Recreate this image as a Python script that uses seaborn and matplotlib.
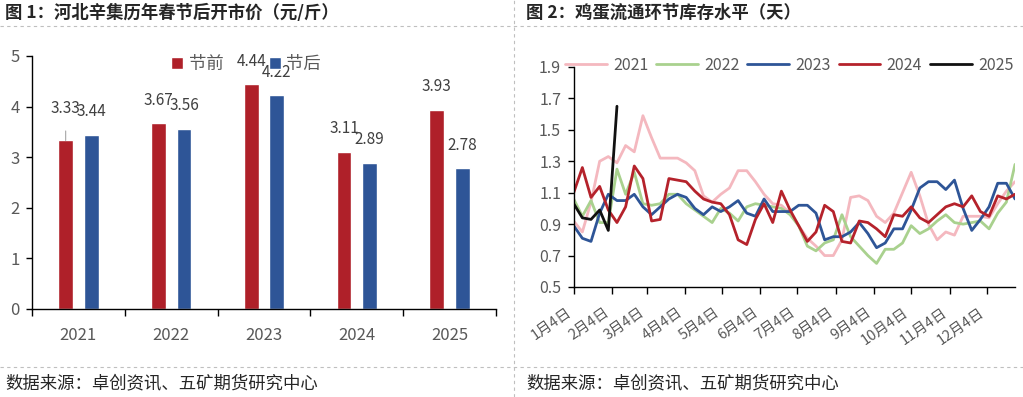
import numpy as np
import pandas as pd
import matplotlib.pyplot as plt
import seaborn as sns

# 图1: 河北辛集历年春节前后开市价
years = ["2021", "2022", "2023", "2024", "2025"]
price_before = [3.33, 3.67, 4.44, 3.11, 3.93]
price_after = [3.44, 3.56, 4.22, 2.89, 2.78]

# 图2: 鸡蛋流通环节库存水平 (weekly, from Jan 4)
stock_2021 = [0.92, 0.85, 1.04, 1.30, 1.33, 1.29, 1.40, 1.36, 1.59, 1.45,
              1.32, 1.32, 1.32, 1.29, 1.24, 1.08, 1.04, 1.09, 1.13, 1.24,
              1.24, 1.17, 1.09, 1.03, 1.02, 0.97, 0.89, 0.81, 0.76, 0.70,
              0.70, 0.80, 1.07, 1.08, 1.05, 0.95, 0.91, 0.97, 1.10, 1.23,
              1.08, 0.90, 0.80, 0.85, 0.83, 0.95, 0.95, 0.95, 0.94, 1.03,
              1.11, 1.17]
stock_2022 = [1.06, 0.95, 1.05, 0.91, 0.91, 1.25, 1.09, 1.23, 1.03, 1.02,
              1.03, 1.09, 1.09, 1.03, 0.99, 0.95, 0.91, 1.00, 0.97, 0.92,
              1.01, 1.03, 1.02, 1.01, 1.00, 0.96, 0.89, 0.76, 0.73, 0.78,
              0.80, 0.96, 0.82, 0.76, 0.70, 0.65, 0.74, 0.74, 0.78, 0.89,
              0.84, 0.87, 0.92, 0.96, 0.91, 0.90, 0.91, 0.92, 0.87, 0.97,
              1.04, 1.28]
stock_2023 = [0.89, 0.81, 0.79, 0.97, 1.09, 1.05, 1.05, 1.09, 1.01, 0.96,
              1.01, 1.06, 1.09, 1.07, 1.00, 0.96, 1.01, 0.98, 1.01, 1.05,
              0.97, 0.95, 1.06, 0.98, 0.98, 0.98, 1.02, 1.02, 0.97, 0.80,
              0.82, 0.82, 0.85, 0.91, 0.84, 0.75, 0.78, 0.87, 0.87, 0.99,
              1.13, 1.17, 1.17, 1.12, 1.18, 1.00, 0.86, 0.93, 1.01, 1.16,
              1.16, 1.06]
stock_2024 = [1.10, 1.26, 1.07, 1.14, 0.99, 0.91, 1.01, 1.27, 1.19, 0.92,
              0.93, 1.19, 1.18, 1.17, 1.11, 1.06, 1.04, 1.03, 0.96, 0.80,
              0.77, 0.93, 1.03, 0.91, 1.11, 0.99, 0.89, 0.79, 0.85, 1.02,
              0.98, 0.79, 0.78, 0.92, 0.91, 0.87, 0.82, 0.96, 0.95, 1.01,
              0.94, 0.91, 0.96, 1.01, 1.03, 1.01, 1.08, 0.98, 0.95, 1.08,
              1.06, 1.09]
stock_2025 = [1.03, 0.94, 0.93, 0.99, 0.86, 1.65]
month_days = [0, 31, 59, 90, 120, 151, 181, 212, 243, 273, 304, 334]
month_labels = ["1月4日", "2月4日", "3月4日", "4月4日", "5月4日", "6月4日",
                "7月4日", "8月4日", "9月4日", "10月4日", "11月4日", "12月4日"]

sns.set_theme(style="white")
plt.rcParams["font.family"] = ["Noto Sans CJK SC", "DejaVu Sans"]
grey = "#595959"

fig = plt.figure(figsize=(10.23, 3.97), dpi=100)

# ---- left: bar chart
bars = pd.DataFrame({
    "year": years * 2,
    "period": ["节前"] * 5 + ["节后"] * 5,
    "price": price_before + price_after,
})
ax1 = fig.add_axes([0.0313, 0.2217, 0.4536, 0.6373])
sns.barplot(data=bars, x="year", y="price", hue="period",
            palette=["#AF2029", "#2E5597"], saturation=1,
            width=0.55, gap=0.42, ax=ax1)
ax1.set_ylim(0, 5)
ax1.set_xlim(-0.5, 4.5)
ax1.set_xlabel("")
ax1.set_ylabel("")
ax1.set_yticks(range(6))
ax1.set_xticks(np.arange(-0.5, 5, 1), minor=True)
ax1.tick_params(axis="x", which="major", length=0, pad=13, labelsize=12, labelcolor=grey)
ax1.tick_params(axis="x", which="minor", length=5, width=1, color="black", direction="out", bottom=True)
ax1.tick_params(axis="y", length=4, width=1, color="black", direction="out", left=True,
                pad=5, labelsize=12, labelcolor=grey)
for s in ["top", "right"]:
    ax1.spines[s].set_visible(False)
for s in ["left", "bottom"]:
    ax1.spines[s].set_color("black")
    ax1.spines[s].set_linewidth(1.0)

# value labels (placed like the original, some overlap there too)
for ci, cont in enumerate(ax1.containers):
    for bi, patch in enumerate(cont.patches):
        cx = patch.get_x() + patch.get_width() / 2
        h = patch.get_height()
        if ci == 0 and bi == 0:
            ax1.annotate(f"{h:.2f}", xy=(cx, h), xytext=(cx, h + 0.64),
                         ha="center", va="center", fontsize=11, color="#404040",
                         arrowprops=dict(arrowstyle="-", color="#A6A6A6", lw=0.8,
                                         shrinkA=8, shrinkB=0))
        else:
            ax1.text(cx, h + 0.46, f"{h:.2f}", ha="center", va="center",
                     fontsize=11, color="#404040")

handles, labels = ax1.get_legend_handles_labels()
ax1.legend(handles, labels, loc="center", ncol=2, frameon=False,
           bbox_to_anchor=(246 / 1023, 1 - 64 / 397), bbox_transform=fig.transFigure,
           fontsize=12.5, handlelength=0.7, handleheight=0.7,
           handletextpad=0.3, columnspacing=2.6, labelcolor=grey)

# ---- right: line chart
series = {"2021": stock_2021, "2022": stock_2022, "2023": stock_2023,
          "2024": stock_2024, "2025": stock_2025}
rows = []
for yr, vals in series.items():
    for k, v in enumerate(vals):
        rows.append({"day": k * 7, "stock": v, "year": yr})
lines = pd.DataFrame(rows)

ax2 = fig.add_axes([0.5608, 0.2771, 0.4314, 0.5542])
sns.lineplot(data=lines, x="day", y="stock", hue="year",
             palette={"2021": "#F4B8BF", "2022": "#A9D18E", "2023": "#2E5597",
                      "2024": "#B5222B", "2025": "#111111"},
             linewidth=2.0, ax=ax2)
ax2.set_xlim(0, 357)
ax2.set_ylim(0.5, 1.9)
ax2.set_yticks(np.arange(0.5, 1.91, 0.2))
ax2.set_yticklabels([f"{v:.1f}" for v in np.arange(0.5, 1.91, 0.2)])
ax2.set_xticks(month_days)
ax2.set_xticklabels(month_labels, rotation=35, ha="right", va="top")
ax2.set_xlabel("")
ax2.set_ylabel("")
ax2.tick_params(axis="x", length=5, width=1, color="black", direction="out", bottom=True,
                pad=8, labelsize=10.5, labelcolor=grey)
ax2.tick_params(axis="y", length=4, width=1, color="black", direction="out", left=True,
                pad=5, labelsize=11.5, labelcolor=grey)
for s in ["top", "right"]:
    ax2.spines[s].set_visible(False)
for s in ["left", "bottom"]:
    ax2.spines[s].set_color("black")
    ax2.spines[s].set_linewidth(1.0)

handles, labels = ax2.get_legend_handles_labels()
ax2.legend(handles, labels, loc="center left", ncol=5, frameon=False,
           bbox_to_anchor=(565 / 1023, 1 - 65 / 397), bbox_transform=fig.transFigure,
           borderaxespad=0, borderpad=0, fontsize=11.5, handlelength=2.6,
           handletextpad=0.4, columnspacing=0.5, labelcolor=grey)

# ---- titles, separators, sources
fig.text(5 / 1023, 1 - 13 / 397, "图 1：河北辛集历年春节后开市价（元/斤）",
         fontsize=12.5, fontweight="bold", va="center", ha="left")
fig.text(526 / 1023, 1 - 13 / 397, "图 2：鸡蛋流通环节库存水平（天）",
         fontsize=12.5, fontweight="bold", va="center", ha="left")
fig.text(5 / 1023, 1 - 383 / 397, "数据来源：卓创资讯、五矿期货研究中心",
         fontsize=12.5, va="center", ha="left")
fig.text(526 / 1023, 1 - 383 / 397, "数据来源：卓创资讯、五矿期货研究中心",
         fontsize=12.5, va="center", ha="left")

dash = dict(color="#BFBFBF", linewidth=0.8, linestyle=(0, (3, 3)))
fig.add_artist(plt.Line2D([0, 1], [1 - 25.5 / 397] * 2, transform=fig.transFigure, **dash))
fig.add_artist(plt.Line2D([0, 1], [1 - 367 / 397] * 2, transform=fig.transFigure, **dash))
fig.add_artist(plt.Line2D([514 / 1023] * 2, [0, 1], transform=fig.transFigure, **dash))

fig.savefig("out.png", dpi=100)
